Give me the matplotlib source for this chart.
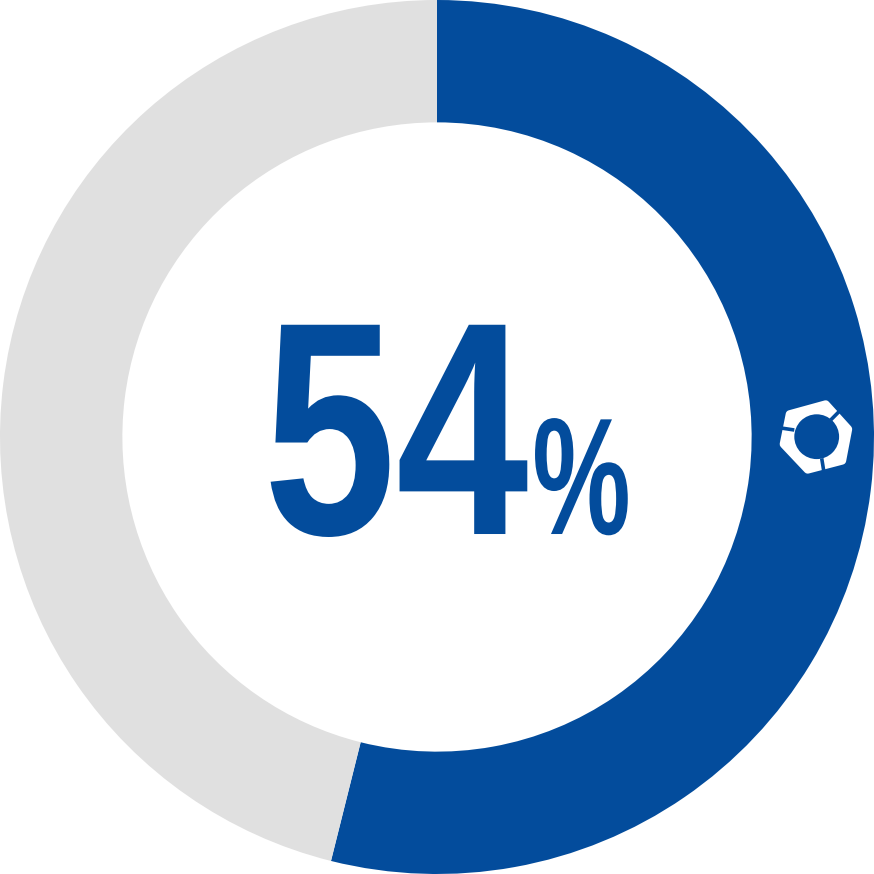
import matplotlib
matplotlib.use('Agg')
from matplotlib import pyplot as plt
from matplotlib.patches import Circle, Polygon
from matplotlib.patheffects import AbstractPathEffect
from matplotlib.transforms import Affine2D

labels = ['yes', 'other']
values = [53.9, 46.1]
colors = ['#034C9C', '#E0E0E0']
center_value = '54'
center_unit = '%'

# logo shape, picture pixels
logo_center = (816.7, 436.7)
logo_outline = [(826.7, 400.7), (851.7, 428.3), (845, 463.3), (806.7, 473.3), (780, 445), (786.7, 411.7)]
logo_gaps = [[(777, 427.4), (794.3, 430)], [(843, 407.6), (830.7, 420)], [(824.4, 475), (821.7, 458.3)]]


def px(points):
    return [((x - 437) / 437, (437 - y) / 437) for x, y in points]


# the digits in the picture are condensed, no narrow font is installed
class SqueezeX(AbstractPathEffect):
    def __init__(self, sx, x0):
        super().__init__()
        self.sx = sx
        self.x0 = x0

    def draw_path(self, renderer, gc, tpath, affine, rgbFace=None):
        squeeze = Affine2D().translate(-self.x0, 0).scale(self.sx, 1).translate(self.x0, 0)
        renderer.draw_path(gc, tpath, affine + squeeze, rgbFace)


fig = plt.figure(figsize=(8.74, 8.74), dpi=100)
ax = fig.add_axes([0, 0, 1, 1])
ax.pie(values, colors=colors, startangle=90, counterclock=False, radius=1,
       wedgeprops={'width': 0.72 * 0.3889, 'linewidth': 0})
ax.set_xlim(-1, 1)
ax.set_ylim(-1, 1)
ax.set_aspect('equal')
ax.axis('off')

# big number and the small percent sign
num = ax.text(0.2094, -0.222, center_value, color=colors[0], fontsize=219, fontweight='bold',
              family='Liberation Sans', ha='right', va='baseline')
num.set_path_effects([SqueezeX(0.784, 528.5)])
unit = ax.text(0.218, -0.222, center_unit, color=colors[0], fontsize=120, fontweight='bold',
               family='Liberation Sans', ha='left', va='baseline')
unit.set_path_effects([SqueezeX(0.664, 532.3)])

# small white logo on the ring
cx, cy = logo_center
inset = [(cx + (x - cx) * 0.9, cy + (y - cy) * 0.9) for x, y in logo_outline]
ax.add_patch(Polygon(px(inset), closed=True, fc='white', ec='white', lw=5.76, joinstyle='round'))
ax.add_patch(Circle(px([logo_center])[0], 22.4 / 437, fc=colors[0], lw=0))
for gap in logo_gaps:
    xs, ys = zip(*px(gap))
    ax.plot(xs, ys, color=colors[0], lw=2.6, solid_capstyle='butt')

fig.savefig('out.png', dpi=100)
